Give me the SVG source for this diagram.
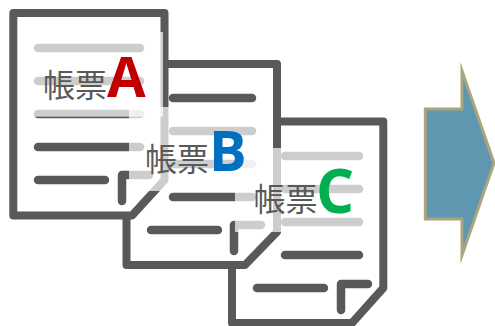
<svg xmlns="http://www.w3.org/2000/svg" width="495" height="326" viewBox="0 0 495 326">
<style>
.o{fill:#fff;stroke:#595959;stroke-width:8;stroke-linejoin:round}
.d{stroke:#595959;stroke-width:8.500;stroke-linecap:round;stroke-linejoin:round;fill:none}
.w{fill:#fff;fill-opacity:.7}
.t{font-family:"Noto Sans CJK JP",sans-serif;font-size:32px;fill:#595959}
.l{font-family:"Open Sans","Liberation Sans",sans-serif;font-weight:700;font-size:56px}
</style>
<g id="doc-c">
<path class="o" d="M232 121.500H383.300V288L352 323H232Z"/>
<path class="d" d="M285 156H359M285 189H359M285 222H359M285 255H359M257 288H324M341 310V284H368"/>
</g>
<g id="doc-b">
<path class="o" d="M126.500 64H277V232L245 265H126.500Z"/>
<path class="d" d="M173 98H252M173 131H252M173 164H252M173 197H252M151 230H218M234 251V225H261"/>
</g>
<g id="doc-a">
<path class="o" d="M13.300 13H164.500V180L132 215.500H13.300Z"/>
<path class="d" d="M38 48H140M38 81H140M38 114H140M38 147H140M38 180H105M122 201V175H149"/>
</g>
<g id="overlays">
<rect class="w" x="30" y="32" width="133" height="84.700"/>
<rect class="w" x="129" y="107" width="132" height="84"/>
<rect class="w" x="235" y="148" width="140" height="84"/>
</g>
<g id="label-a"><text class="t" x="43" y="96.500">帳票</text><text class="l" x="107" y="97" fill="#c00000">A</text></g>
<g id="label-b"><text class="t" x="145" y="170.500">帳票</text><text class="l" x="209" y="171" fill="#0070c0">B</text></g>
<g id="label-c"><text class="t" x="253.500" y="211">帳票</text><text class="l" x="316" y="213" font-size="60" style="font-size:60px" fill="#00b050">C</text></g>
<g id="arrow">
<path d="M425.300 109H462V71L494 163L462 255V219H425.300Z" fill="#5f97b0" stroke="#a9a57c" stroke-width="3" stroke-miterlimit="10"/>
</g>
</svg>
